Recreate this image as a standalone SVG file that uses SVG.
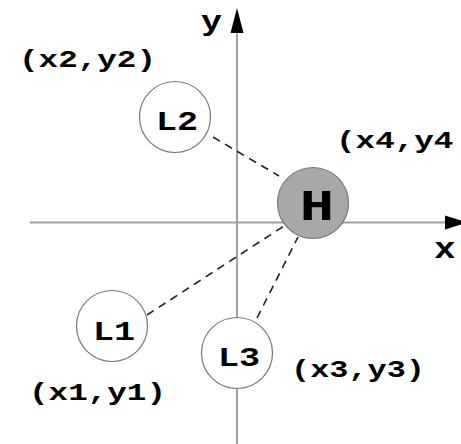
<svg xmlns="http://www.w3.org/2000/svg" width="461" height="444" viewBox="0 0 461 444">
<style>
.axis{stroke:#a0a0a0;stroke-width:2;fill:none}
.head{fill:#000}
.dash{stroke:#222;stroke-width:1.6;stroke-dasharray:8,6;fill:none}
.node{fill:#fff;stroke:#777;stroke-width:1.2}
.hnode{fill:#a8a8a8;stroke:#777;stroke-width:1.2}
.lbl{font-family:"Liberation Mono","DejaVu Sans Mono",monospace;font-weight:bold;fill:#000}
.co{font-size:24px}
.nl{font-size:27px}
</style>
<rect width="461" height="444" fill="#fff"/>
<g id="axes">
<line class="axis" x1="237" y1="30" x2="237" y2="444"/>
<polygon class="head" points="237,8 230.5,33 243.5,33"/>
<line class="axis" x1="30" y1="222.5" x2="448" y2="222.5"/>
<polygon class="head" points="467,222.5 445,215.5 445,229.5"/>
<text class="lbl" transform="translate(201,30) scale(1.25,1)" font-size="28">y</text>
<text class="lbl" transform="translate(434,258) scale(1.2,1)" font-size="30">x</text>
</g>
<g id="connectors">
<line class="dash" x1="213" y1="137" x2="279" y2="176"/>
<line class="dash" x1="147" y1="315" x2="284" y2="226"/>
<line class="dash" x1="257" y1="318" x2="298" y2="237"/>
</g>
<g id="L2">
<circle class="node" cx="175" cy="117" r="35.5"/>
<text class="lbl nl" transform="translate(156,130) scale(1.3,1)">L2</text>
</g>
<g id="L1">
<circle class="node" cx="112" cy="326" r="35.5"/>
<text class="lbl nl" transform="translate(93,340) scale(1.3,1)">L1</text>
</g>
<g id="L3">
<circle class="node" cx="237" cy="353" r="35.5"/>
<text class="lbl nl" transform="translate(218,366) scale(1.3,1)">L3</text>
</g>
<g id="H">
<circle class="hnode" cx="313" cy="203" r="35.5"/>
<text class="lbl" transform="translate(317,220) scale(1.3,1)" font-size="44" text-anchor="middle">H</text>
</g>
<g id="labels">
<text class="lbl co" transform="translate(19,67) scale(1.36,1)">(x2,y2)</text>
<text class="lbl co" transform="translate(336,148) scale(1.36,1)">(x4,y4</text>
<text class="lbl co" transform="translate(29,400) scale(1.36,1)">(x1,y1)</text>
<text class="lbl co" transform="translate(291,377) scale(1.33,1)">(x3,y3)</text>
</g>
</svg>
